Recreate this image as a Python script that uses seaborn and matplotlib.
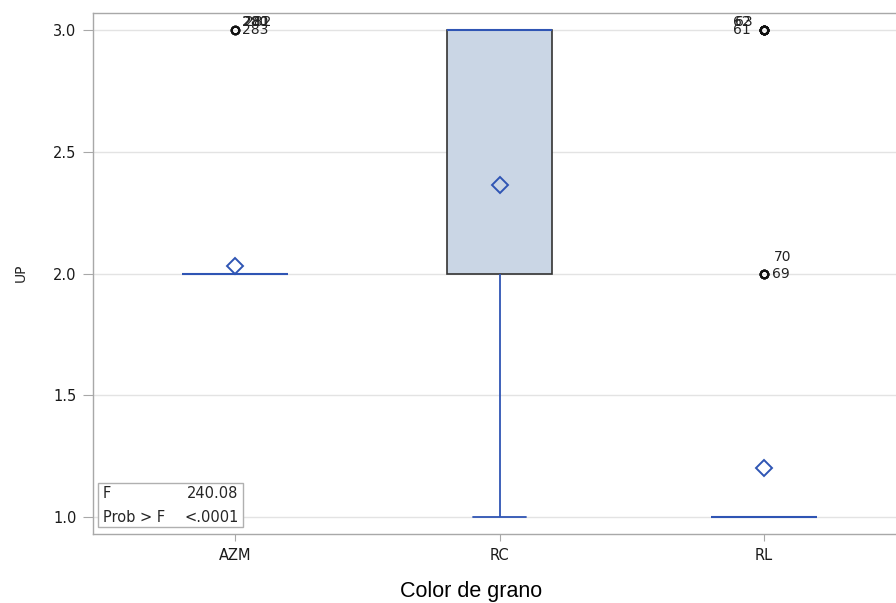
import numpy as np
import pandas as pd
import seaborn as sns
import matplotlib
matplotlib.use("Agg")
import matplotlib.pyplot as plt
from matplotlib.patches import Rectangle

# ---- data ----
groups = ["AZM", "RC", "RL"]
up_values = [1, 2, 3]
counts_azm = [0, 97, 3]
counts_rc = [37, 53, 110]
counts_rl = [88, 4, 8]
yticks = [1.0, 1.5, 2.0, 2.5, 3.0]
f_value = "240.08"
p_value = "<.0001"
# outlier labels: (group, value, label, dx points, dy points)
outlier_labels = [
    ("AZM", 3.0, "283", 5, 0),
    ("AZM", 3.0, "280", 5, 6),
    ("AZM", 3.0, "281", 6, 6),
    ("AZM", 3.0, "282", 7, 6),
    ("RL", 3.0, "61", -22, 0),
    ("RL", 3.0, "62", -22, 6),
    ("RL", 3.0, "63", -21, 6),
    ("RL", 2.0, "69", 6, 0),
    ("RL", 2.0, "70", 7, 12),
]

rows = []
for g, cnts in zip(groups, [counts_azm, counts_rc, counts_rl]):
    for v, c in zip(up_values, cnts):
        rows += [(g, v)] * c
df = pd.DataFrame(rows, columns=["Color de grano", "UP"])

sns.set_style("white")
plt.rcParams["font.family"] = ["DejaVu Sans"]

fig = plt.figure(figsize=(8.96, 6.03), dpi=100)
ax = fig.add_axes([93 / 896, 69 / 603, 813 / 896, 521 / 603])

blue = "#2F55B4"
sns.boxplot(
    data=df, x="Color de grano", y="UP", order=groups, ax=ax,
    width=0.4, whis=1.5, showmeans=True,
    color="#CAD6E5", linecolor="#333333", linewidth=1.2,
    boxprops=dict(facecolor="#CAD6E5", edgecolor="#333333", linewidth=1.2),
    medianprops=dict(color=blue, linewidth=1.5),
    whiskerprops=dict(color=blue, linewidth=1.3),
    capprops=dict(color=blue, linewidth=1.3),
    flierprops=dict(marker="o", markersize=5.5, markerfacecolor="none",
                    markeredgecolor="#111111", markeredgewidth=1.5),
    meanprops=dict(marker="D", markersize=8, markerfacecolor="none",
                   markeredgecolor=blue, markeredgewidth=1.4),
)

for g, v, lab, dx, dy in outlier_labels:
    ax.annotate(lab, (groups.index(g), v), xytext=(dx, dy),
                textcoords="offset points", ha="left", va="center",
                fontsize=10, color="#222222", family="DejaVu Sans")

ax.set_ylim(0.93, 3.07)
ax.set_xlim(-0.537, 2.537)
ax.set_yticks(yticks)
ax.set_yticklabels([f"{t:.1f}" for t in yticks])
ax.yaxis.grid(True, color="#E3E3E3", linewidth=1)
ax.set_axisbelow(True)
for s in ax.spines.values():
    s.set_color("#A8A8A8")
    s.set_linewidth(1)
ax.tick_params(axis="y", left=True, direction="out", length=7, color="#A8A8A8",
               labelsize=10.5, labelcolor="#1a1a1a", pad=5)
ax.tick_params(axis="x", bottom=True, direction="out", length=5, color="#A8A8A8",
               labelsize=10.5, labelcolor="#1a1a1a", pad=5)
ax.set_xlabel("Color de grano", fontsize=15.5, color="black",
              family="Liberation Sans")
ax.xaxis.set_label_coords((471 - 93) / 813, -(591 - 534) / 521)
ax.xaxis.label.set_va("center")
ax.set_ylabel("UP", fontsize=10, color="#222222")
ax.yaxis.set_label_coords(-(93 - 21) / 813, (534 - 273) / 521)
ax.yaxis.label.set_va("center")

# stats inset box
ax.add_patch(Rectangle((0.006, 0.0134), 0.1785, 0.0845, transform=ax.transAxes,
                       facecolor="white", edgecolor="#B0B0B0", linewidth=1, zorder=5))
ax.text(0.012, 0.077, "F", transform=ax.transAxes, fontsize=10.5, va="center", zorder=6)
ax.text(0.179, 0.077, f_value, transform=ax.transAxes, fontsize=10.5, va="center",
        ha="right", zorder=6)
ax.text(0.012, 0.032, "Prob > F", transform=ax.transAxes, fontsize=10.5, va="center", zorder=6)
ax.text(0.179, 0.032, p_value, transform=ax.transAxes, fontsize=10.5, va="center",
        ha="right", zorder=6)

fig.savefig("out.png", dpi=100)
